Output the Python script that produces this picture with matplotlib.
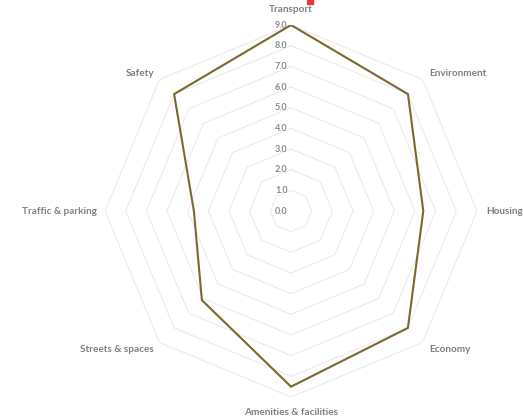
import numpy as np
import matplotlib
matplotlib.use("Agg")
import matplotlib.pyplot as plt
import matplotlib.transforms as mtransforms
import matplotlib.patches as mpatches

categories = ["Transport", "Environment", "Housing", "Economy",
              "Amenities & facilities", "Streets & spaces", "Traffic & parking", "Safety"]
scores = [9.0, 8.0, 6.4, 8.0, 8.5, 6.1, 4.7, 8.0]
levels = [0, 1, 2, 3, 4, 5, 6, 7, 8, 9]
level_labels = ["0.0", "1.0", "2.0", "3.0", "4.0", "5.0", "6.0", "7.0", "8.0", "9.0"]

plt.rcParams['font.family'] = ['Lato', 'DejaVu Sans']

fig = plt.figure(figsize=(5.23, 4.19), dpi=100)
ax = fig.add_axes([0.2008, 0.0525, 0.7113, 0.8878], projection='polar')
ax.set_theta_zero_location('N')
ax.set_theta_direction(-1)
ax.set_ylim(0, 9)
ax.grid(False)
ax.spines['polar'].set_visible(False)
ax.set_xticks([])
ax.set_yticks([])

n = len(categories)
angles = np.linspace(0, 2 * np.pi, n, endpoint=False)
closed = np.append(angles, angles[0])

# octagonal grid
for lv in levels[1:]:
    ax.plot(closed, [lv] * (n + 1), color='#ebebeb', lw=0.8, zorder=1)

# data polygon
vals = scores + scores[:1]
ax.plot(closed, vals, color='#7a692c', lw=1.5, zorder=3, solid_joinstyle='miter')

# radial value labels along the top axis
for lv, lab in zip(levels, level_labels):
    tr = mtransforms.offset_copy(ax.transData, fig=fig, x=-7, y=0, units='points')
    ax.text(0, lv, lab, transform=tr, ha='center', va='center',
            fontsize=6.5, color='#8a8a8a', fontweight='bold')

# category labels
offsets = [(0, 11, 'center'), (5, 4, 'left'), (7, 0, 'left'), (5, -5, 'left'),
           (0, -11, 'center'), (-4, -5, 'right'), (-6, 0, 'right'), (-4, 4, 'right')]
for ang, cat, (dx, dy, ha) in zip(angles, categories, offsets):
    tr = mtransforms.offset_copy(ax.transData, fig=fig, x=dx, y=dy, units='points')
    ax.text(ang, 9, cat, transform=tr, ha=ha, va='center',
            fontsize=7.2, color='#808080', fontweight='bold')

# cut-off red mark of the title at the top edge
fig.patches.append(mpatches.Rectangle((307 / 523, 1 - 4 / 419), 6 / 523, 4 / 419,
                                      transform=fig.transFigure, color='#e03c31'))

fig.savefig('out.png', dpi=100)
